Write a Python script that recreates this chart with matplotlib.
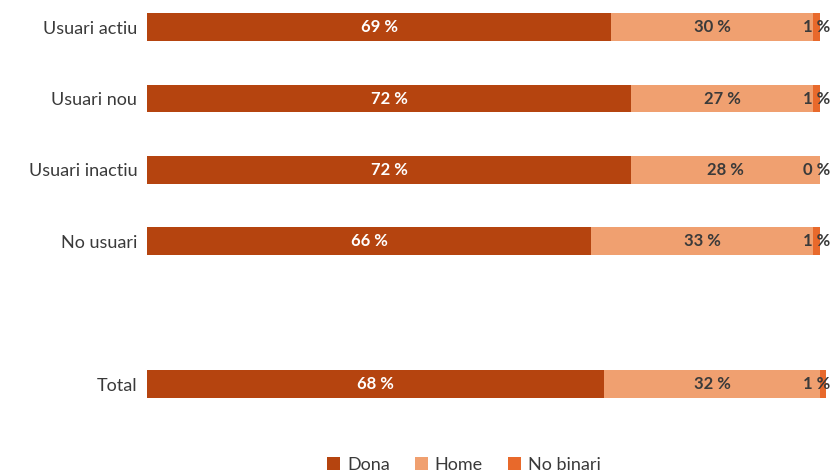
import numpy as np
import matplotlib.pyplot as plt
from matplotlib.patches import Patch

plt.rcParams['font.family'] = ['Lato', 'DejaVu Sans']

categories = ['Usuari actiu', 'Usuari nou', 'Usuari inactiu', 'No usuari', 'Total']
dona = [69, 72, 72, 66, 68]
home = [30, 27, 28, 33, 32]
no_binari = [1, 1, 0, 1, 1]
series_names = ['Dona', 'Home', 'No binari']

colors = ['#B5440F', '#F0A070', '#E8692B']
label_colors = ['white', '#3a3a3a', '#3a3a3a']

# empty slot between the groups and the total row
ypos = np.array([0, 1, 2, 3, 5])

fig = plt.figure(figsize=(8.33, 4.75), dpi=100)
ax = fig.add_axes([0.1765, 0.131, 0.8075, 0.857])

left = np.zeros(len(categories))
for vals, col, lc in zip([dona, home, no_binari], colors, label_colors):
    vals = np.array(vals, dtype=float)
    ax.barh(ypos, vals, left=left, height=0.39, color=col,
            edgecolor='none', clip_on=False)
    for y, l, v in zip(ypos, left, vals):
        # keep the small end labels inside the figure
        xt = min(l + v / 2, 99.6)
        ax.text(xt, y, f'{int(v)} %', ha='center', va='center',
                color=lc, fontsize=12, fontweight='bold')
    left += vals

ax.set_xlim(0, 100)
ax.set_ylim(5.4, -0.3)
ax.set_yticks(ypos)
ax.set_yticklabels(categories, fontsize=13, color='#3a3a3a')
ax.tick_params(axis='y', length=0, pad=7)
ax.set_xticks([])
for s in ax.spines.values():
    s.set_visible(False)

handles = [Patch(facecolor=c, edgecolor='none') for c in colors]
fig.legend(handles, series_names, loc='lower center', ncol=3,
           bbox_to_anchor=(0.557, -0.03), frameon=False, fontsize=13,
           handlelength=0.7, handleheight=0.7, handletextpad=0.4,
           columnspacing=1.4, labelcolor='#3a3a3a')

fig.savefig('out.png', dpi=100)
